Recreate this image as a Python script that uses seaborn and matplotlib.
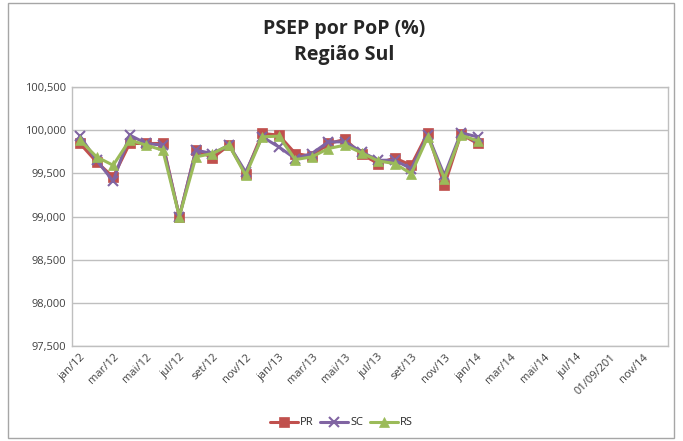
import pandas as pd
import matplotlib
matplotlib.use("Agg")
import matplotlib.pyplot as plt
import seaborn as sns
from matplotlib.patches import Rectangle

# meses jan/12 .. dez/14 (36 categorias), dados até jan/14
n_months = 36
tick_labels = ['jan/12', 'mar/12', 'mai/12', 'jul/12', 'set/12', 'nov/12',
               'jan/13', 'mar/13', 'mai/13', 'jul/13', 'set/13', 'nov/13',
               'jan/14', 'mar/14', 'mai/14', 'jul/14', '01/09/201', 'nov/14']

pr = [99.845, 99.632, 99.457, 99.845, 99.845, 99.845, 99.000, 99.775, 99.678, 99.826,
      99.496, 99.961, 99.942, 99.729, 99.698, 99.845, 99.892, 99.721, 99.613, 99.678,
      99.593, 99.969, 99.360, 99.953, 99.845]
sc = [99.930, 99.651, 99.410, 99.942, 99.845, 99.826, 99.000, 99.767, 99.729, 99.826,
      99.515, 99.922, 99.806, 99.670, 99.729, 99.864, 99.864, 99.748, 99.651, 99.651,
      99.554, 99.942, 99.477, 99.969, 99.922]
rs = [99.884, 99.690, 99.593, 99.884, 99.826, 99.767, 99.000, 99.690, 99.729, 99.826,
      99.477, 99.922, 99.930, 99.659, 99.690, 99.787, 99.826, 99.737, 99.643, 99.613,
      99.496, 99.922, 99.438, 99.942, 99.876]

series = {'PR': pr, 'SC': sc, 'RS': rs}
colors = {'PR': '#C0504D', 'SC': '#8064A2', 'RS': '#9BBB59'}
markers = {'PR': 's', 'SC': 'x', 'RS': '^'}

df = pd.concat([pd.DataFrame({'mes': range(len(v)), 'valor': v, 'estado': k})
                for k, v in series.items()])

sns.set_style('white')
plt.rcParams['font.family'] = ['Open Sans', 'DejaVu Sans']

fig = plt.figure(figsize=(6.83, 4.41), dpi=100)
ax = fig.add_axes([0.105, 0.215, 0.873, 0.588])

for k in series:
    d = df[df['estado'] == k]
    sns.lineplot(data=d, x='mes', y='valor', ax=ax, color=colors[k], marker=markers[k],
                 markersize=7, markeredgewidth=1.5 if k == 'SC' else 0.5,
                 markeredgecolor=colors[k], linewidth=2.2, label=k)

ax.set_xlim(-0.5, n_months - 0.5)
ax.set_ylim(97.5, 100.5)
ax.set_yticks([97.5, 98.0, 98.5, 99.0, 99.5, 100.0, 100.5])
ax.set_yticklabels([f'{v:.3f}'.replace('.', ',') for v in ax.get_yticks()],
                   fontsize=8, color='#404040')
ax.set_xticks(range(0, n_months, 2))
ax.set_xticklabels(tick_labels, rotation=45, ha='right', rotation_mode='anchor',
                   fontsize=8, color='#404040')
ax.tick_params(axis='both', length=0, pad=4)
ax.grid(axis='y', color='#BFBFBF', linewidth=1)
ax.set_xlabel('')
ax.set_ylabel('')
for s in ax.spines.values():
    s.set_color('#BFBFBF')
    s.set_linewidth(1)

handles, labels = ax.get_legend_handles_labels()
ax.get_legend().remove()
fig.legend(handles, labels, loc='center', bbox_to_anchor=(0.5, 0.041), ncol=3,
           frameon=False, fontsize=8, handlelength=2.5, handletextpad=0.2,
           columnspacing=0.6)

fig.text(0.504, 0.905, 'PSEP por PoP (%)\nRegião Sul', ha='center', va='center',
         fontsize=14, fontweight='bold', linespacing=1.4)

fig.patches.append(Rectangle((0.012, 0.007), 0.975, 0.986, transform=fig.transFigure,
                             fill=False, edgecolor='#A6A6A6', linewidth=1))

plt.savefig('out.png', dpi=100)
